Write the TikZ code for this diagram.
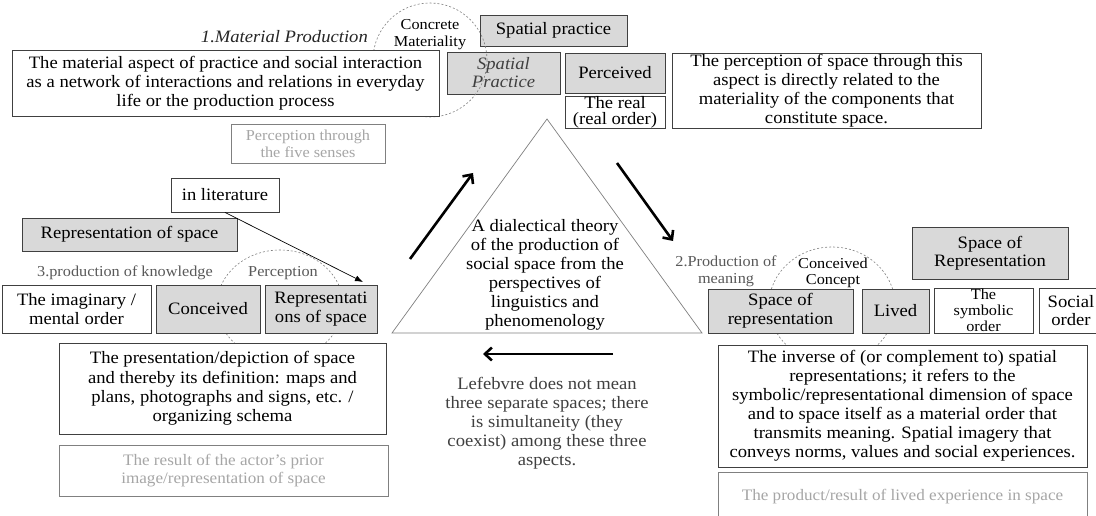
\documentclass[tikz,border=0pt]{standalone}
\usepackage{fontspec}
\setmainfont{Liberation Serif}[FakeStretch=1.07]
\usetikzlibrary{arrows.meta,shapes.geometric}
\definecolor{boxline}{HTML}{404040}
\definecolor{grayfill}{HTML}{D9D9D9}
\definecolor{lighttext}{HTML}{A6A6A6}
\definecolor{midtext}{HTML}{595959}
\definecolor{darktext}{HTML}{404040}
\newcommand{\fbig}{\fontsize{17.4}{19}\selectfont}
\newcommand{\fsml}{\fontsize{15.2}{17}\selectfont}
\tikzset{
  base/.style={draw=boxline, line width=0.8pt, inner sep=0pt, align=center, font=\fbig, text=black},
  wbox/.style={base, fill=white},
  gbox/.style={base, fill=grayfill},
  lbox/.style={base, draw=gray, fill=white, text=lighttext, font=\fsml},
  note/.style={inner sep=0pt, align=center},
  dcirc/.style={draw=gray, dash pattern=on 2pt off 2pt, line width=0.6pt, fill=none, inner sep=0pt},
  bigarrow/.style={line width=2.6pt, -{Straight Barb[length=7pt,width=13pt]}},
  thinarrow/.style={line width=0.7pt, -{Latex[length=8pt,width=6pt]}}
}
\begin{document}
\begin{tikzpicture}[x=1pt,y=-1pt]
\useasboundingbox (0,0) rectangle (1096,516);
\clip (0,0) rectangle (1096,516);
\fill[white] (0,0) rectangle (1096,516);

% ---------- top section ----------
\node[note, anchor=east, font=\fbig\itshape, text=black!85] (matprod) at (368,37) {1.Material Production};
\node[gbox, minimum width=147pt, minimum height=31pt] (sptop) at (553.5,30.5) {Spatial practice};
\node[gbox, minimum width=113pt, minimum height=42pt, font={\fontsize{17.4}{18}\selectfont\itshape}, text=darktext] (spit) at (503.5,73) {Spatial\\Practice};
\node[dcirc, ellipse, minimum width=114pt, minimum height=114pt] (c1) at (430,60) {};
\node[note, font={\fontsize{15.2}{17}\selectfont}] (concmat) at (430,35) {Concrete\\Materiality};
\node[wbox, minimum width=427pt, minimum height=66pt] (mat) at (225.5,83) {The material aspect of practice and social interaction\\as a network of interactions and relations in everyday\\life or the production process};
\node[gbox, minimum width=100pt, minimum height=40pt] (perc) at (615,73) {Perceived};
\node[wbox, minimum width=100pt, minimum height=31pt, font={\fontsize{17.4}{15.5}\selectfont}] (real) at (615,112.5) {The real\\(real order)};
\node[wbox, minimum width=309pt, minimum height=75pt] (percdesc) at (826.5,90.5) {The perception of space through this\\aspect is directly related to the\\materiality of the components that\\constitute space.};
\node[lbox, minimum width=154pt, minimum height=39pt] (senses) at (308,143.5) {Perception through\\the five senses};

% ---------- triangle ----------
\coordinate (apex) at (547,119);
\coordinate (bl) at (392,333);
\coordinate (br) at (702,333);
\draw[draw=gray, line width=0.7pt] (apex) -- (bl) -- (br) -- cycle;
\node[note, font=\fbig] (theory) at (545,275) {A dialectical theory\\of the production of\\social space from the\\perspectives of\\linguistics and\\phenomenology};
\coordinate (a1s) at (410,259); \coordinate (a1e) at (473,173);
\coordinate (a2s) at (617,163); \coordinate (a2e) at (673,241);
\coordinate (a3s) at (613,354); \coordinate (a3e) at (483,354);
\draw[bigarrow] (a1s) -- (a1e);
\draw[bigarrow] (a2s) -- (a2e);
\draw[bigarrow] (a3s) -- (a3e);
\node[note, font=\fbig, text=darktext] (lef) at (547,423) {Lefebvre does not mean\\three separate spaces; there\\is simultaneity (they\\coexist) among these three\\aspects.};

% ---------- left section ----------
\node[dcirc, ellipse, minimum width=126pt, minimum height=110pt] (c3) at (280,305) {};
\node[wbox, minimum width=108pt, minimum height=34pt] (inlit) at (225,195) {in literature};
\node[gbox, minimum width=215pt, minimum height=33pt] (repsp) at (129.5,234.5) {Representation of space};
\node[note, font=\fsml, text=midtext] (knowl) at (125,273) {3.production of knowledge};
\node[note, font=\fsml, text=midtext] (percp) at (283,273) {Perception};
\node[wbox, minimum width=149pt, minimum height=48pt] (imag) at (76.5,309) {The imaginary /\\mental order};
\node[gbox, minimum width=104pt, minimum height=48pt] (conc) at (208,309) {Conceived};
\node[gbox, minimum width=112pt, minimum height=48pt] (reprs) at (321,309) {Representati\\ons of space};
\coordinate (litend) at (363,282);
\draw[thinarrow] (inlit.south) -- (litend);
\node[wbox, minimum width=327pt, minimum height=91pt, font={\fontsize{17.4}{19.5}\selectfont}] (presdesc) at (222.5,388.5) {The presentation/depiction of space\\and thereby its definition: maps and\\plans, photographs and signs, etc. /\\organizing schema};
\node[lbox, minimum width=329pt, minimum height=51pt, font={\fontsize{16}{18}\selectfont}] (result) at (223.5,470.5) {The result of the actor's prior\\image/representation of space};

% ---------- right section ----------
\node[dcirc, ellipse, minimum width=126pt, minimum height=116pt] (c2) at (832,305) {};
\node[note, font=\fsml, text=midtext] (prodmean) at (726,271.5) {2.Production of\\meaning};
\node[note, font={\fontsize{15.2}{16}\selectfont}] (concconc) at (833,273) {Conceived\\Concept};
\node[gbox, minimum width=156pt, minimum height=52pt, font={\fontsize{17.4}{18}\selectfont}] (sprep) at (990,253) {Space of\\Representation};
\node[gbox, minimum width=145pt, minimum height=44pt] (spacerep) at (780.5,311) {Space of\\representation};
\node[gbox, minimum width=67pt, minimum height=44pt] (lived) at (895.5,311) {Lived};
\node[wbox, minimum width=99pt, minimum height=45pt, font={\fontsize{15.2}{16}\selectfont}] (symb) at (983.5,310.5) {The\\symbolic\\order};
\node[wbox, minimum width=64pt, minimum height=45pt, font={\fontsize{17.4}{18}\selectfont}] (social) at (1071,310.5) {Social\\order};
\node[wbox, minimum width=369pt, minimum height=122pt] (invdesc) at (902.5,406) {The inverse of (or complement to) spatial\\representations; it refers to the\\symbolic/representational dimension of space\\and to space itself as a material order that\\transmits meaning. Spatial imagery that\\conveys norms, values and social experiences.};
\node[lbox, minimum width=369pt, minimum height=50pt, font={\fontsize{16}{18}\selectfont}] (product) at (902.5,497) {The product/result of lived experience in space};
\end{tikzpicture}
\end{document}
